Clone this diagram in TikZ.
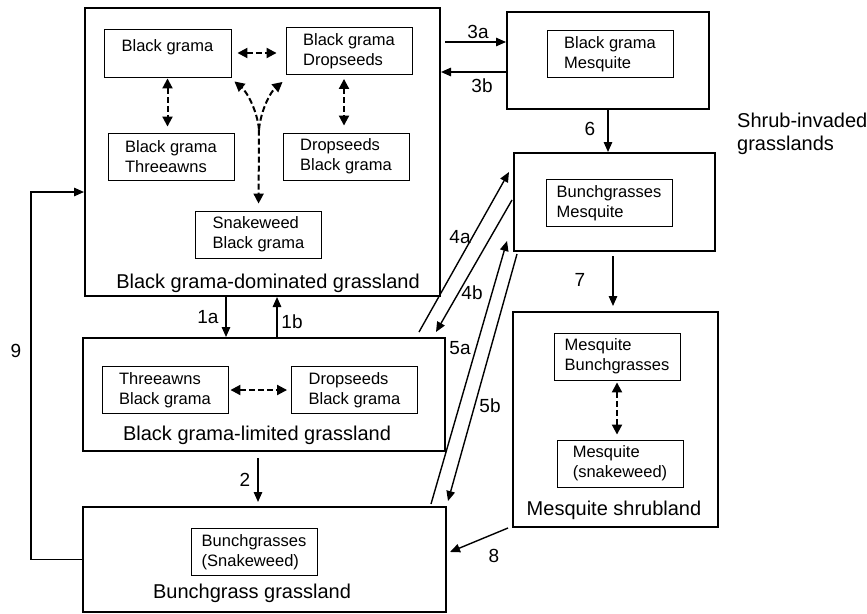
\documentclass[tikz,border=0pt]{standalone}
\usepackage{fontspec}
\setmainfont{Liberation Sans}
\usetikzlibrary{arrows.meta,calc}
\begin{document}
\begin{tikzpicture}[x=1pt,y=-1pt,
  statebox/.style={draw,line width=2pt,inner sep=0pt},
  phase/.style={draw,line width=0.9pt,align=left,minimum width=126pt,minimum height=47pt,
                inner sep=0pt,font=\fontsize{16.5}{20}\selectfont},
  statetitle/.style={font=\fontsize{20}{23}\selectfont,inner sep=0pt},
  num/.style={font=\fontsize{19}{22}\selectfont,inner sep=0pt},
  arr/.style={line width=1.4pt,-{Triangle[length=10pt,width=8.5pt]}},
  dtipstyle/.style={line width=2pt,dash pattern=on 6pt off 3pt},
  darr/.style={dtipstyle,{Triangle[length=10pt,width=10pt]}-{Triangle[length=10pt,width=10pt]}},
  dtip/.style={dtipstyle,-{Triangle[length=10pt,width=10pt]}}
]
\useasboundingbox (0,0) rectangle (867,613);

% state boxes
\node[statebox,minimum width=355pt,minimum height=288pt] (A) at (262.5,152) {};
\node[statebox,minimum width=202pt,minimum height=97pt]  (B) at (608,60.5) {};
\node[statebox,minimum width=201pt,minimum height=98pt]  (C) at (614.5,202) {};
\node[statebox,minimum width=205pt,minimum height=215pt] (D) at (615.5,419.5) {};
\node[statebox,minimum width=362pt,minimum height=113pt] (E) at (264,394.5) {};
\node[statebox,minimum width=363pt,minimum height=105pt] (F) at (264.5,559.5) {};

% community phases
\node[phase,minimum width=127pt,minimum height=48pt] (A1) at (167.5,53) {Black grama\\[-5pt]\mbox{}};
\node[phase] (A2) at (349,51) {Black grama\\Dropseeds};
\node[phase] (A3) at (171,156.5) {Black grama\\Threeawns};
\node[phase] (A4) at (346,156.5) {Dropseeds\\Black grama};
\node[phase] (A5) at (258.5,234.5) {Snakeweed\\Black grama};
\node[phase] (B1) at (610,54) {Black grama\\Mesquite};
\node[phase] (C1) at (609,203) {Bunchgrasses\\Mesquite};
\node[phase] (D1) at (617,356.5) {Mesquite\\Bunchgrasses};
\node[phase] (D2) at (620,463.5) {Mesquite\\(snakeweed)};
\node[phase] (E1) at (165,390) {Threeawns\\Black grama};
\node[phase] (E2) at (354.5,390) {Dropseeds\\Black grama};
\node[phase] (F1) at (254,552) {Bunchgrasses\\(Snakeweed)};

% state titles
\node[statetitle] (At) at (268,283) {Black grama-dominated grassland};
\node[statetitle] (Et) at (257,435) {Black grama-limited grassland};
\node[statetitle] (Ft) at (252,593) {Bunchgrass grassland};
\node[statetitle] (Dt) at (614,510) {Mesquite shrubland};
\node[statetitle,anchor=west,align=left] (St) at (737,133.5) {Shrub-invaded\\grasslands};

% phase shifts within states
\draw[darr,shorten <=6pt,shorten >=9pt] (A1.east) -- (A1.east -| A2.west);
\draw[darr,shorten <=1pt,shorten >=6pt] (A1.south) -- (A1.south |- A3.north);
\draw[darr,shorten <=4pt,shorten >=7pt] ([xshift=-5pt]A2.south) -- ([xshift=-5pt]A2.south |- A4.north);
\coordinate (fork)  at ($(A5.north)+(0.5,-81)$);
\coordinate (forkL) at ($(A1.south east)+(3,4)$);
\coordinate (forkR) at ($(A2.south west)+(-3,7)$);
\draw[dtip,shorten >=7pt] (fork) -- (A5.north);
\draw[dtip] (fork) .. controls +(-2,-20) and +(12,10) .. (forkL);
\draw[dtip] (fork) .. controls +(2,-20) and +(-12,10) .. (forkR);
\draw[darr,shorten <=2pt,shorten >=4pt] (E1.east) -- (E2.west);
\draw[darr,shorten <=2pt,shorten >=5pt] (D1.south) -- (D1.south |- D2.north);

% transitions between states
\coordinate (b3a) at ([yshift=18.5pt]B.west);
\coordinate (b3b) at ([yshift=-11.5pt]B.west);
\draw[arr] ($(A.east |- b3a)+(4,0)$) -- (b3a);
\draw[arr] (b3b) -- (A.east |- b3b);
\draw[arr] ([xshift=-36.5pt]A.south) -- ([xshift=-36.5pt]A.south |- E.north);
\draw[arr] ([xshift=14.5pt]A.south |- E.north) -- ([xshift=14.5pt]A.south);
\draw[arr] (B.south) -- (B.south |- C.north);
\draw[arr] ($(C.south)+(-1.5,4)$) -- ($(C.south |- D.north)+(-1.5,-5)$);
\draw[arr] ($(E.south)+(-6,6)$) -- ($(E.south |- F.north)+(-6,-4)$);
\draw[arr] ($(E.north east)+(-27,-5)$) -- ($(C.north west)+(-4,20)$);
\draw[arr] ($(C.west)+(-1,-2)$) -- ($(E.north east)+(-10,-5)$);
\draw[arr] ($(F.north east)+(-16,-2)$) -- ($(C.south west)+(-6,-11)$);
\draw[arr] ($(C.south west)+(4,2)$) -- ($(F.north east)+(1,-5)$);
\draw[arr] ($(D.south west)+(-4,0)$) -- ($(F.east)+(3,-7.5)$);
\draw[arr] (F.west) -- ++(-51,0) |- ([yshift=-40pt]A.west);

% transition numbers
\node[num] (n3a) at (478,32) {3a};
\node[num] (n3b) at (482,86) {3b};
\node[num] (n6)  at (590,129) {6};
\node[num] (n7)  at (580,280) {7};
\node[num] (n1a) at (208,317) {1a};
\node[num] (n1b) at (292,322) {1b};
\node[num] (n2)  at (245,480) {2};
\node[num] (n4a) at (460,237) {4a};
\node[num] (n4b) at (472,293) {4b};
\node[num] (n5a) at (460,348) {5a};
\node[num] (n5b) at (490,406) {5b};
\node[num] (n8)  at (494,556) {8};
\node[num] (n9)  at (16,351) {9};
\end{tikzpicture}
\end{document}
